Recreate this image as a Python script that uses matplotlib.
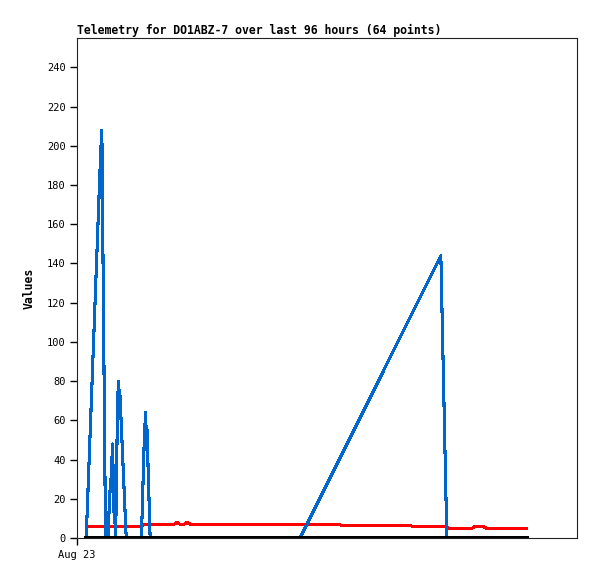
import matplotlib
matplotlib.use("Agg")
import matplotlib.pyplot as plt

# hours since Aug 23 00:00 and values
blue_hours = [2.0, 5.2, 5.3, 5.4, 6.2, 6.7, 7.3, 7.4, 7.7, 7.9, 8.1, 8.2, 8.4,
              8.8, 9.0, 9.2, 9.3, 10.7, 14.0, 14.6, 14.9, 15.1, 15.2, 15.9,
              48.5, 79.1, 80.4, 97.8]
blue_values = [0, 200, 183, 208, 0, 0, 30, 25, 48, 30, 8, 35, 0,
               66, 80, 70, 75, 0, 0, 48, 64, 50, 56, 0,
               0, 144, 0, 0]

red_hours = [2.0, 14.1, 14.3, 21.1, 21.7, 22.4, 23.3, 23.9, 24.6, 57.0, 57.4,
             72.4, 72.8, 80.2, 80.7, 85.9, 86.5, 88.3, 88.9, 97.8]
red_values = [6, 6, 7, 7, 8, 7, 7, 8, 7, 7, 6.5,
              6.5, 6, 6, 5, 5, 6, 6, 5, 5]

black_hours = [2.0, 97.8]
black_values = [0, 0]

y_ticks = list(range(0, 241, 20))
x_tick_labels = ["Aug 23"]

fig = plt.figure(figsize=(5.97, 5.79), dpi=100)
ax = fig.add_axes([77 / 597, 1 - 538 / 579, 500 / 597, 500 / 579])

ax.plot(red_hours, red_values, color="#ff0000", lw=1.5, antialiased=False)
ax.plot(blue_hours, blue_values, color="#0066cc", lw=1.5, antialiased=False)
ax.plot(black_hours, black_values, color="black", lw=1.5, antialiased=False)

ax.set_xlim(0, 108.7)
ax.set_ylim(0, 255)
ax.set_yticks(y_ticks)
ax.set_xticks([0])
ax.set_xticklabels(x_tick_labels)

mono = "DejaVu Sans Mono"
for lab in ax.get_yticklabels() + ax.get_xticklabels():
    lab.set_fontfamily(mono)
    lab.set_fontsize(7.5)
ax.tick_params(direction="out", length=5, width=1, pad=3)
ax.tick_params(axis="x", pad=4)

for sp in ax.spines.values():
    sp.set_color("#222222")
    sp.set_linewidth(0.8)

ax.set_title("Telemetry for DO1ABZ-7 over last 96 hours (64 points)",
             loc="left", fontfamily=mono, fontweight="bold", fontsize=8.3, pad=3)
ax.set_ylabel("Values", fontfamily=mono, fontweight="bold", fontsize=8.3, labelpad=8)

fig.savefig("out.png", dpi=100)
